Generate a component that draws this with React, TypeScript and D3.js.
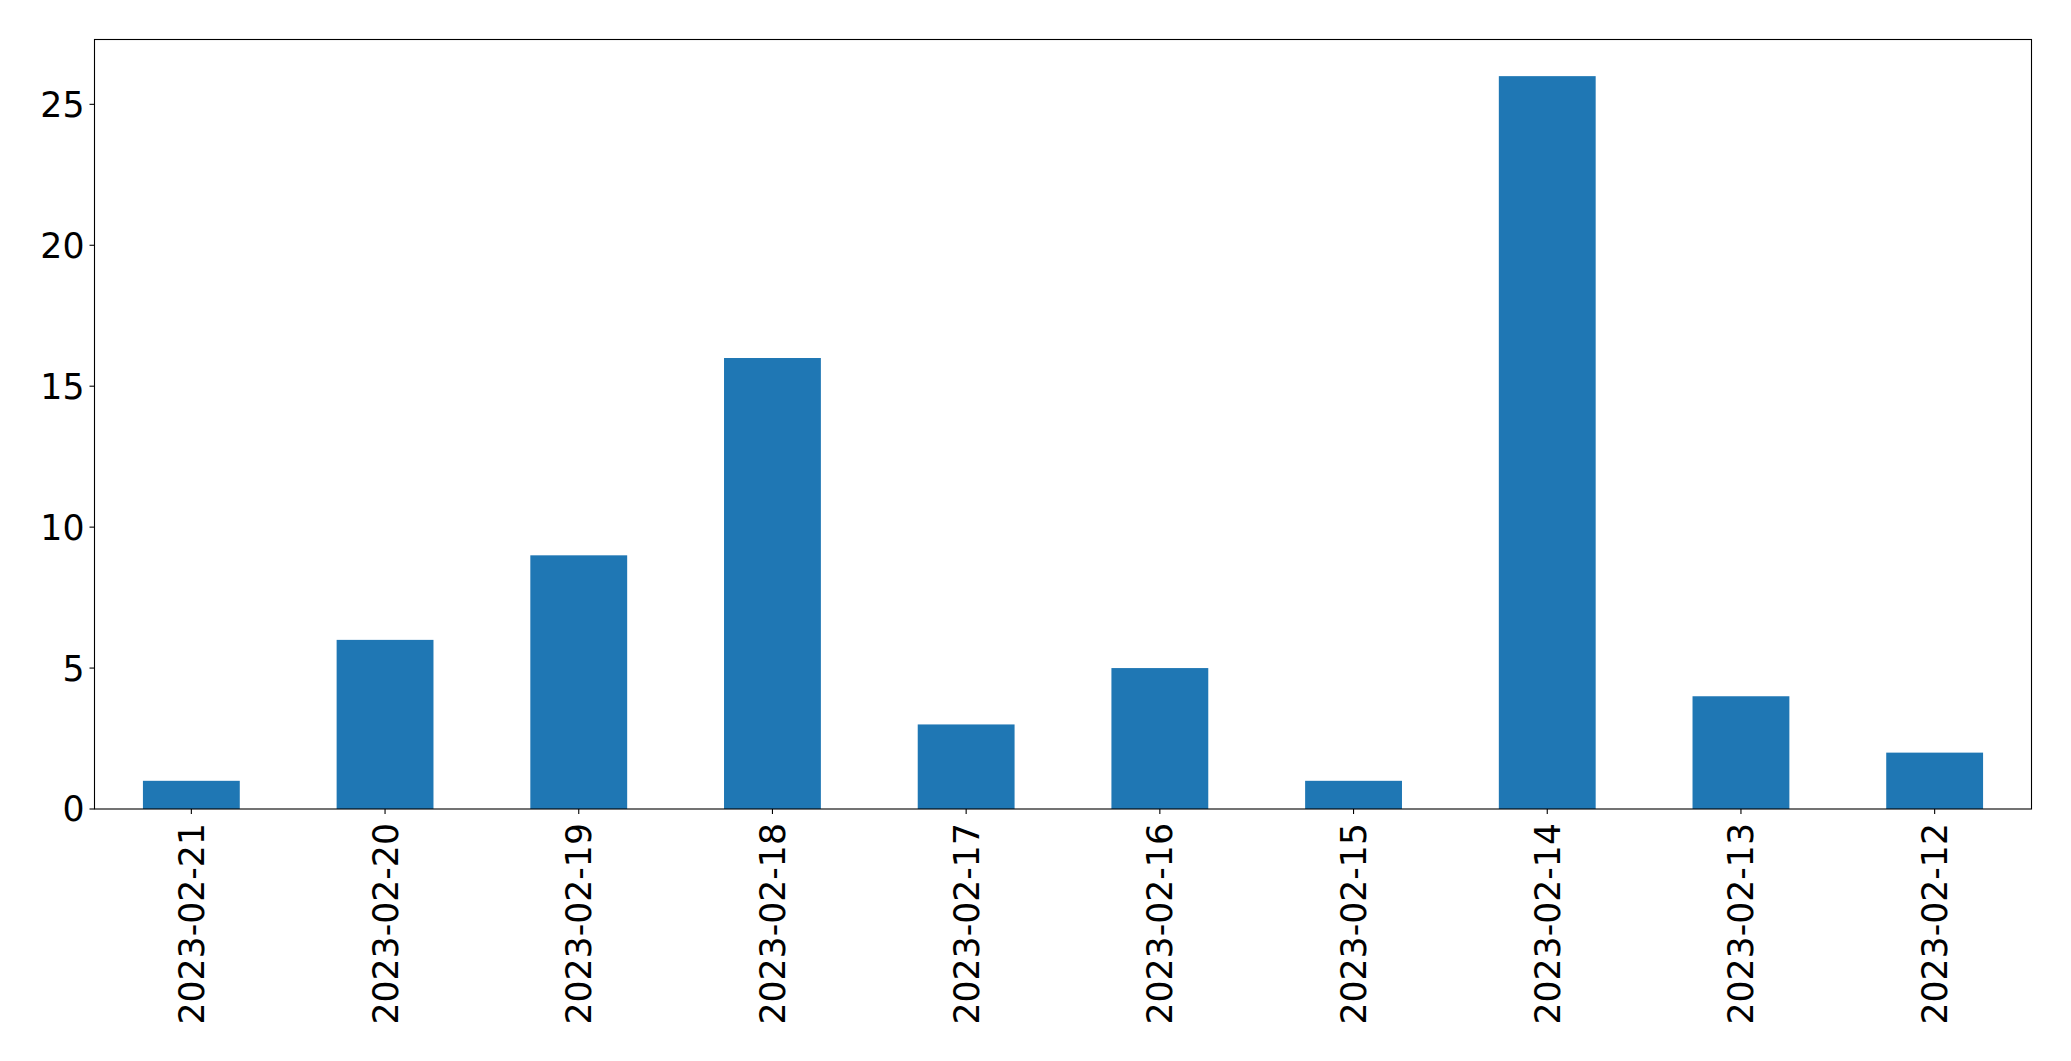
import React from "react";
import * as d3 from "d3";

const categories = [
  "2023-02-21",
  "2023-02-20",
  "2023-02-19",
  "2023-02-18",
  "2023-02-17",
  "2023-02-16",
  "2023-02-15",
  "2023-02-14",
  "2023-02-13",
  "2023-02-12",
];
const values = [1, 6, 9, 16, 3, 5, 1, 26, 4, 2];
const yTicks = [0, 5, 10, 15, 20, 25];

const W = 2071;
const H = 1061;
const left = 94.5;
const right = 2031.5;
const top = 39.5;
const bottom = 809;
const FONT = "DejaVu Sans, sans-serif";
const FS = 34.7;

export default function App() {
  const x = d3
    .scaleLinear()
    .domain([-0.5, categories.length - 0.5])
    .range([left, right]);
  const maxV = d3.max(values) as number;
  const y = d3
    .scaleLinear()
    .domain([0, maxV * 1.05])
    .range([bottom, top]);
  const barW = x(0.25) - x(-0.25);

  return (
    <svg
      width={W}
      height={H}
      style={{ position: "absolute", left: 0, top: 0, background: "#fff" }}
      fontFamily={FONT}
    >
      <rect x={0} y={0} width={W} height={H} fill="#fff" />
      {values.map((v, i) => (
        <rect
          key={i}
          x={x(i) - barW / 2}
          y={y(v)}
          width={barW}
          height={y(0) - y(v)}
          fill="#1f77b4"
        />
      ))}
      {yTicks.map((t) => (
        <g key={t}>
          <line x1={left - 5} x2={left} y1={y(t)} y2={y(t)} stroke="#000" strokeWidth={1.1} />
          <text
            x={left - 10}
            y={y(t)}
            dy="0.36em"
            textAnchor="end"
            fontSize={FS}
            fill="#000"
          >
            {t}
          </text>
        </g>
      ))}
      {categories.map((c, i) => (
        <g key={c}>
          <line x1={x(i)} x2={x(i)} y1={bottom} y2={bottom + 5} stroke="#000" strokeWidth={1.1} />
          <text
            transform={`translate(${x(i)},${bottom + 14}) rotate(-90)`}
            dy="0.36em"
            textAnchor="end"
            fontSize={FS}
            fill="#000"
          >
            {c}
          </text>
        </g>
      ))}
      <rect
        x={left}
        y={top}
        width={right - left}
        height={bottom - top}
        fill="none"
        stroke="#000"
        strokeWidth={1.1}
      />
    </svg>
  );
}
